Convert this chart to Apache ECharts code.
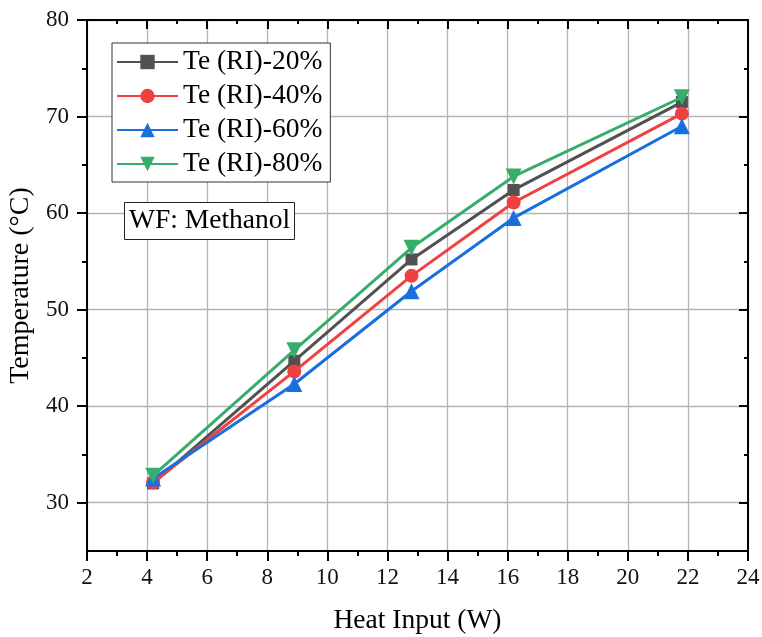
<!DOCTYPE html>
<html>
<head>
<meta charset="utf-8">
<script src="https://cdn.jsdelivr.net/npm/echarts@6/dist/echarts.min.js"></script>
<style>
  html, body { margin: 0; padding: 0; background: #fff; }
  #chart { width: 762px; height: 637px; }
</style>
</head>
<body>
<div id="chart"></div>
<script>
// Heat input (W) at each measurement
const heatInput = [4.2, 8.9, 12.8, 16.2, 21.8];
// Evaporator temperature (°C) for each filling ratio
const te20 = [32.0, 44.7, 55.2, 62.4, 71.5];
const te40 = [32.1, 43.6, 53.5, 61.1, 70.3];
const te60 = [32.5, 42.3, 51.9, 59.5, 69.0];
const te80 = [32.8, 45.8, 56.4, 63.8, 72.0];
const seriesNames = ['Te (RI)-20%', 'Te (RI)-40%', 'Te (RI)-60%', 'Te (RI)-80%'];
// Temperature axis ticks
const yMajorTicks = [30, 40, 50, 60, 70, 80];
const yMinorTicks = [35, 45, 55, 65, 75];

const FONT = '"Liberation Serif", "DejaVu Serif", serif';
const colors = ['#515151', '#F14040', '#1A6FDF', '#37AD6B'];
const symbols = ['rect', 'circle', 'triangle', 'triangle'];
const symbolSizes = [12, 14, 16, 16];
const rotations = [0, 0, 0, 180];
const values = [te20, te40, te60, te80];

const pairs = arr => heatInput.map((x, i) => [x, arr[i]]);

const chart = echarts.init(document.getElementById('chart'), null, { renderer: 'canvas' });

const yBase = { type: 'value', min: 25, max: 80, interval: 5, gridIndex: 0 };

chart.setOption({
  animation: false,
  backgroundColor: '#fff',
  textStyle: { fontFamily: FONT },
  grid: { left: 87, right: 14, top: 20, bottom: 86, containLabel: false, outerBoundsMode: 'none' },
  title: {
    text: 'WF: Methanol',
    left: 124, top: 202,
    padding: [4, 5, 4, 5],
    borderColor: '#222', borderWidth: 1,
    backgroundColor: '#fff',
    textStyle: { fontFamily: FONT, fontSize: 27.5, fontWeight: 'normal', color: '#000', lineHeight: 30 }
  },
  legend: {
    orient: 'vertical',
    left: 112, top: 43,
    padding: [5, 8, 4, 4],
    itemWidth: 61, itemHeight: 18, itemGap: 6,
    borderColor: '#333', borderWidth: 1,
    backgroundColor: '#fff',
    data: seriesNames,
    textStyle: { fontFamily: FONT, fontSize: 27.5, color: '#000', lineHeight: 28 }
  },
  xAxis: [
    {
      type: 'value', position: 'bottom', min: 2, max: 24, interval: 2,
      name: 'Heat Input (W)', nameLocation: 'middle', nameGap: 56,
      nameTextStyle: { fontFamily: FONT, fontSize: 27.5, color: '#000' },
      axisLine: { show: true, onZero: false, lineStyle: { color: '#000', width: 2 } },
      axisTick: { show: true, inside: false, length: 10, lineStyle: { color: '#000', width: 2 } },
      minorTick: { show: true, splitNumber: 2, length: 5, lineStyle: { color: '#000', width: 2 } },
      axisLabel: { margin: 15, fontFamily: FONT, fontSize: 23, color: '#111' },
      splitLine: { show: true, lineStyle: { color: '#b4b4b4', width: 1.3 } }
    },
    {
      type: 'value', position: 'top', min: 2, max: 24, interval: 2,
      axisLine: { show: true, onZero: false, lineStyle: { color: '#000', width: 2 } },
      axisTick: { show: true, inside: true, length: 9, lineStyle: { color: '#000', width: 2 } },
      minorTick: { show: true, splitNumber: 2, length: 4, lineStyle: { color: '#000', width: 2 } },
      axisLabel: { show: false },
      splitLine: { show: false }
    }
  ],
  yAxis: [
    Object.assign({}, yBase, {
      position: 'left',
      name: 'Temperature (°C)', nameLocation: 'middle', nameGap: 42,
      nameTextStyle: { fontFamily: FONT, fontSize: 28, color: '#000' },
      axisLine: { show: true, onZero: false, lineStyle: { color: '#000', width: 2 } },
      axisTick: { show: true, inside: false, length: 10, customValues: yMajorTicks, lineStyle: { color: '#000', width: 2 } },
      axisLabel: { margin: 18, customValues: yMajorTicks, fontFamily: FONT, fontSize: 23, color: '#111' },
      splitLine: { show: true, lineStyle: { color: '#b4b4b4', width: 1.3 } }
    }),
    Object.assign({}, yBase, {
      position: 'left',
      axisLine: { show: false },
      axisTick: { show: true, inside: false, length: 5, customValues: yMinorTicks, lineStyle: { color: '#000', width: 2 } },
      axisLabel: { show: false },
      splitLine: { show: false }
    }),
    Object.assign({}, yBase, {
      position: 'right',
      axisLine: { show: true, onZero: false, lineStyle: { color: '#000', width: 2 } },
      axisTick: { show: true, inside: true, length: 9, customValues: yMajorTicks, lineStyle: { color: '#000', width: 2 } },
      axisLabel: { show: false },
      splitLine: { show: false }
    }),
    Object.assign({}, yBase, {
      position: 'right',
      axisLine: { show: false },
      axisTick: { show: true, inside: true, length: 4, customValues: yMinorTicks, lineStyle: { color: '#000', width: 2 } },
      axisLabel: { show: false },
      splitLine: { show: false }
    })
  ],
  series: values.map((arr, i) => ({
    name: seriesNames[i],
    type: 'line',
    xAxisIndex: 0,
    yAxisIndex: 0,
    data: pairs(arr),
    symbol: symbols[i],
    symbolSize: symbolSizes[i],
    symbolRotate: rotations[i],
    showAllSymbol: true,
    color: colors[i],
    lineStyle: { color: colors[i], width: 3 },
    itemStyle: { color: colors[i] },
    z: 3 + i
  }))
});
</script>
</body>
</html>
